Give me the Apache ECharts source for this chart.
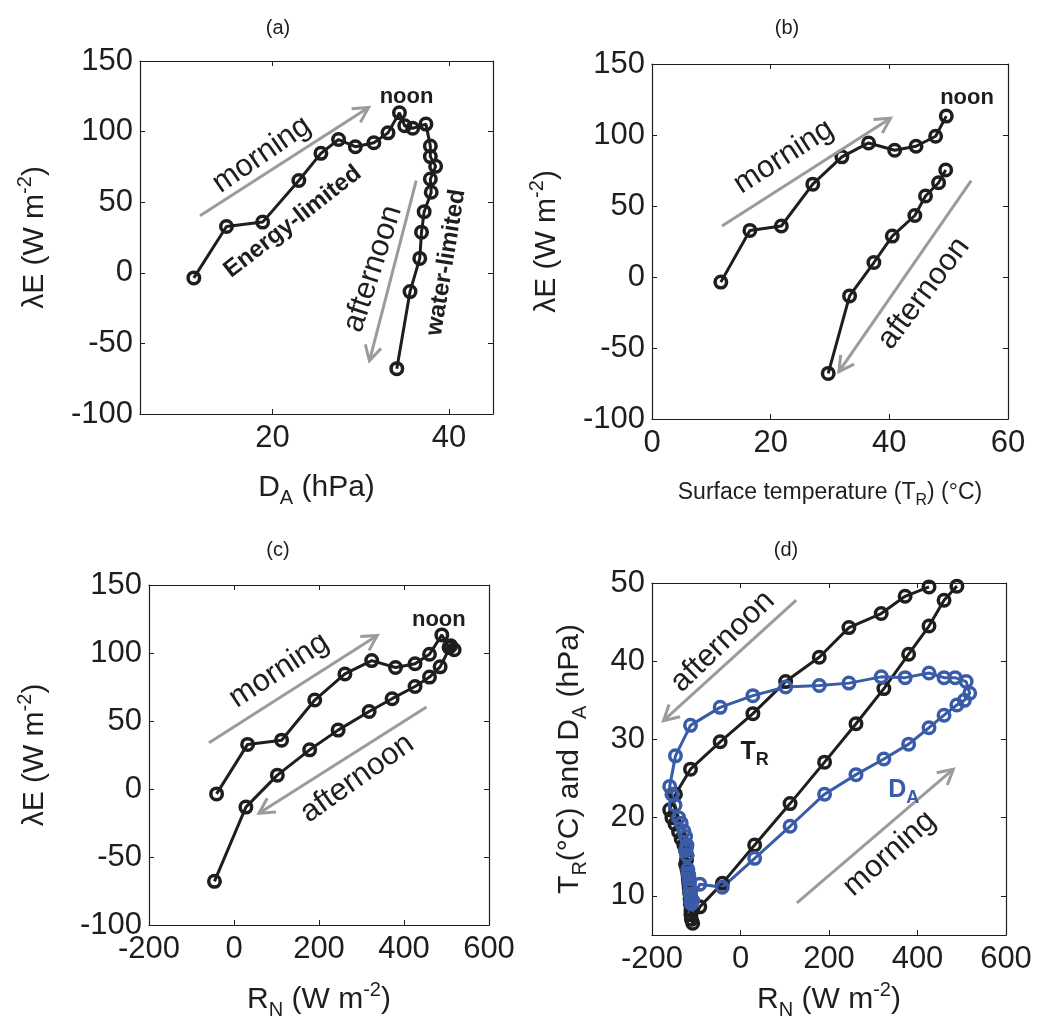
<!DOCTYPE html>
<html>
<head>
<meta charset="utf-8">
<script src="https://cdn.jsdelivr.net/npm/echarts@6/dist/echarts.min.js"></script>
<style>
  html, body { margin: 0; padding: 0; background: #fff; }
  #chart { width: 1037px; height: 1033px; }
</style>
</head>
<body>
<div id="chart"></div>
<script>
// Half-hourly diurnal course (00:00 ... 23:30).
// Net radiation R_N (W m-2)
const netRadiation = [
  -122, -124, -121, -119, -118, -117, -116, -115, -114, -113, -112, -112, -111, -108, -92,
  -41, 32, 112, 190, 261, 324, 380, 426, 460, 489,
  506, 518, 510, 485, 460, 426, 372, 318, 245, 178, 102, 28, -46,
  -113, -147, -160, -155, -148, -140, -134, -128, -124, -121
];
// Latent heat flux λE (W m-2), daytime only
const latentHeat = [
  null, null, null, null, null, null, null, null, null, null, null, null, null, null, null,
  -3.6, 32.8, 35.9, 65.4, 84.6, 94.4, 89.3, 92.1, 99.1, 113.3,
  104.1, 102.4, 105.3, 89.8, 82.3, 75.4, 66.4, 57.0, 43.3, 28.8, 10.2, -13.3, -67.9,
  null, null, null, null, null, null, null, null, null, null
];
// Vapour pressure deficit D_A (hPa)
const vpdAir = [
  16.2, 15.8, 15.2, 13.4, 12.9, 12.6, 12.2, 11.6, 10.8, 10.2, 9.7, 9.3, 9.0, 9.4, 11.5,
  11.1, 14.8, 18.9, 23.0, 25.5, 27.5, 29.4, 31.5, 33.1, 34.4,
  35.0, 35.9, 37.4, 37.9, 37.9, 38.5, 37.9, 38.0, 37.2, 36.9, 36.7, 35.6, 34.1,
  31.8, 27.9, 24.0, 23.0, 21.6, 20.0, 19.3, 18.3, 17.6, 16.5
];
// Radiometric surface temperature T_R (°C); gaps where no retrieval
const surfaceTemp = [
  14.6, 14.0, 13.4, 12.8, 12.2, 11.6, 11.0, 10.4, 9.6, 8.9, 8.2, 7.6, 7.0, 6.5, 8.6,
  11.6, 16.5, 21.8, 27.1, 32.0, 36.5, 40.9, 44.5, 47.8, 49.6,
  null, null, null, null, null, 49.5, 48.3, 46.1, 44.3, 40.5, 37.4, 33.3, 29.7,
  26.2, 23.0, 21.0, 20.0, 19.2, 18.2, 17.3, 16.5, 15.8, 15.2
];
// Tick values
const ticksVpdX = [20, 40];
const ticksTempY = [10, 20, 30, 40, 50];

const FONT = '"Liberation Sans", Arial, Helvetica, sans-serif';
const INK = '#1e1e1e';
const BLUE = '#3a5ba8';
const GREY = '#9b9b9b';

function pairs(xs, ys) {
  return xs.map((x, i) => [x == null ? null : x, ys[i] == null ? null : ys[i]]);
}

const grids = [
  { left: 140, top: 61, width: 353, height: 353 },
  { left: 652, top: 64, width: 356, height: 355 },
  { left: 149, top: 585, width: 340, height: 340 },
  { left: 652, top: 583, width: 354, height: 352 }
].map(g => Object.assign({ outerBoundsMode: 'none', containLabel: false, show: false }, g));

const richBase = {
  t: { fontSize: 30, fontFamily: FONT, color: INK, lineHeight: 40 },
  s: { fontSize: 20, fontFamily: FONT, color: INK, verticalAlign: 'top', lineHeight: 20 },
  b: { fontSize: 20, fontFamily: FONT, color: INK, verticalAlign: 'bottom', lineHeight: 20 }
};
const richSmall = {
  t: { fontSize: 23, fontFamily: FONT, color: INK, lineHeight: 32 },
  b: { fontSize: 16, fontFamily: FONT, color: INK, verticalAlign: 'bottom', lineHeight: 16 }
};

function axis(kind, grid, primary, cfg) {
  const a = {
    type: 'value',
    gridIndex: grid,
    position: kind === 'x' ? (primary ? 'bottom' : 'top') : (primary ? 'left' : 'right'),
    min: cfg.min,
    max: cfg.max,
    axisLine: { show: true, onZero: false, lineStyle: { color: INK, width: 1.2 } },
    axisTick: { show: true, inside: true, length: 5, lineStyle: { color: INK, width: 1 } },
    splitLine: { show: false },
    axisLabel: {
      show: primary,
      fontSize: 31,
      fontFamily: FONT,
      color: INK,
      margin: kind === 'x' ? 9 : 7,
      showMinLabel: true,
      showMaxLabel: true
    }
  };
  if (cfg.interval != null) a.interval = cfg.interval;
  if (cfg.custom) {
    a.axisTick.customValues = cfg.custom;
    a.axisLabel.customValues = cfg.custom;
  }
  if (primary && cfg.name) {
    a.name = cfg.name;
    a.nameLocation = 'middle';
    a.nameGap = cfg.nameGap;
    a.nameTextStyle = { fontSize: 30, fontFamily: FONT, color: INK, rich: cfg.rich || richBase };
  }
  return a;
}

const leName = '{t|λE (W m}{s|-2}{t|)}';
const rnName = '{t|R}{b|N}{t| (W m}{s|-2}{t|)}';

const xCfg = [
  { min: 5, max: 45, custom: ticksVpdX, name: '{t|D}{b|A}{t| (hPa)}', nameGap: 54 },
  { min: 0, max: 60, interval: 20, name: '{t|Surface temperature (T}{b|R}{t|) (°C)}', nameGap: 58, rich: richSmall },
  { min: -200, max: 600, interval: 200, name: rnName, nameGap: 55 },
  { min: -200, max: 600, interval: 200, name: rnName, nameGap: 45 }
];
const yCfg = [
  { min: -100, max: 150, interval: 50, name: leName, nameGap: 85 },
  { min: -100, max: 150, interval: 50, name: leName, nameGap: 85 },
  { min: -100, max: 150, interval: 50, name: leName, nameGap: 94 },
  { min: 5, max: 50, custom: ticksTempY, name: '{t|T}{b|R}{t|(°C) and D}{b|A}{t| (hPa)}', nameGap: 62 }
];

const xAxes = [], yAxes = [];
for (let g = 0; g < 4; g++) {
  xAxes.push(axis('x', g, true, xCfg[g]), axis('x', g, false, xCfg[g]));
  yAxes.push(axis('y', g, true, yCfg[g]), axis('y', g, false, yCfg[g]));
}

function loop(name, g, data, color) {
  return {
    name: name,
    type: 'line',
    xAxisIndex: 2 * g,
    yAxisIndex: 2 * g,
    data: data,
    connectNulls: false,
    symbol: 'circle',
    symbolSize: 11.5,
    showSymbol: true,
    showAllSymbol: true,
    lineStyle: { color: color, width: 3 },
    itemStyle: { color: 'rgba(255,255,255,0)', borderColor: color, borderWidth: 3.5 },
    emphasis: { disabled: true },
    z: 3
  };
}

const series = [
  loop('λE vs D_A', 0, pairs(vpdAir, latentHeat), INK),
  loop('λE vs T_R', 1, pairs(surfaceTemp, latentHeat), INK),
  loop('λE vs R_N', 2, pairs(netRadiation, latentHeat), INK),
  loop('T_R vs R_N', 3, pairs(netRadiation, surfaceTemp), INK),
  loop('D_A vs R_N', 3, pairs(netRadiation, vpdAir), BLUE)
];

const chart = echarts.init(document.getElementById('chart'), null, { renderer: 'canvas' });
chart.setOption({
  animation: false,
  backgroundColor: '#fff',
  grid: grids,
  xAxis: xAxes,
  yAxis: yAxes,
  series: series
});

// Annotations placed in data coordinates of each panel
function toPx(g, pt) {
  return chart.convertToPixel({ xAxisIndex: 2 * g, yAxisIndex: 2 * g }, pt);
}
function arrow(g, from, to) {
  const p0 = toPx(g, from), p1 = toPx(g, to);
  const ang = Math.atan2(p1[1] - p0[1], p1[0] - p0[0]);
  const L = 17, spread = 0.5;
  const h1 = [p1[0] - L * Math.cos(ang - spread), p1[1] - L * Math.sin(ang - spread)];
  const h2 = [p1[0] - L * Math.cos(ang + spread), p1[1] - L * Math.sin(ang + spread)];
  return [
    { type: 'line', silent: true, shape: { x1: p0[0], y1: p0[1], x2: p1[0], y2: p1[1] },
      style: { stroke: GREY, lineWidth: 3 }, z: 10 },
    { type: 'polyline', silent: true, shape: { points: [h1, p1, h2] },
      style: { stroke: GREY, lineWidth: 3, fill: null }, z: 10 }
  ];
}
function note(g, at, text, deg, opts) {
  const p = toPx(g, at);
  opts = opts || {};
  const style = {
    text: text,
    fontSize: opts.size || 30,
    fontWeight: opts.bold ? 'bold' : 'normal',
    fontFamily: FONT,
    fill: opts.color || INK,
    align: 'center',
    verticalAlign: 'middle'
  };
  if (opts.rich) style.rich = opts.rich;
  return { type: 'text', silent: true, x: p[0], y: p[1], rotation: (deg || 0) * Math.PI / 180, style: style, z: 11 };
}
function heading(x, y, text) {
  return { type: 'text', silent: true, x: x, y: y,
    style: { text: text, fontSize: 20, fontFamily: FONT, fill: INK, align: 'center', verticalAlign: 'middle' } };
}
function subRich(color) {
  return {
    m: { fontSize: 25, fontWeight: 'bold', fontFamily: FONT, color: color, lineHeight: 34 },
    i: { fontSize: 18, fontWeight: 'bold', fontFamily: FONT, color: color, verticalAlign: 'bottom', lineHeight: 18 }
  };
}

const graphics = [].concat(
  heading(278, 28, '(a)'), heading(787, 28, '(b)'), heading(278, 550, '(c)'), heading(786, 550, '(d)'),
  // (a)
  arrow(0, [11.8, 40.4], [30.9, 117.1]),
  arrow(0, [36.3, 65.2], [31.0, -62.3]),
  note(0, [35.2, 124.6], 'noon', 0, { bold: true, size: 22 }),
  note(0, [18.8, 83.6], 'morning', 34.6, { size: 31 }),
  note(0, [22.3, 36.1], 'Energy-limited', 38, { bold: true, size: 24 }),
  note(0, [31.4, 2.8], 'afternoon', 72, { size: 31 }),
  note(0, [39.7, 7.3], 'water-limited', 80.7, { bold: true, size: 24 }),
  // (b)
  arrow(1, [11.8, 35.9], [40.2, 111.8]),
  arrow(1, [53.8, 67.8], [31.5, -66.7]),
  note(1, [53.1, 125.8], 'noon', 0, { bold: true, size: 22 }),
  note(1, [22.2, 84.7], 'morning', 32.8, { size: 31 }),
  note(1, [45.8, -11.5], 'afternoon', 52.8, { size: 31 }),
  // (c)
  arrow(2, [-58.8, 34], [337, 112.9]),
  arrow(2, [453, 60.3], [58.8, -17.8]),
  note(2, [482, 124.4], 'noon', 0, { bold: true, size: 22 }),
  note(2, [106, 87.2], 'morning', 33.2, { size: 31 }),
  note(2, [290, 7.8], 'afternoon', 35.3, { size: 31 }),
  // (d)
  arrow(3, [126, 47.8], [-174, 32.4]),
  arrow(3, [127.5, 9.1], [481, 26.2]),
  note(3, [-40, 42.5], 'afternoon', 44, { size: 31 }),
  note(3, [337, 15.4], 'morning', 41.5, { size: 31 }),
  note(3, [31.7, 28.4], '{m|T}{i|R}', 0, { rich: subRich(INK) }),
  note(3, [369, 23.5], '{m|D}{i|A}', 0, { rich: subRich(BLUE), color: BLUE })
);

chart.setOption({ graphic: graphics });
</script>
</body>
</html>
